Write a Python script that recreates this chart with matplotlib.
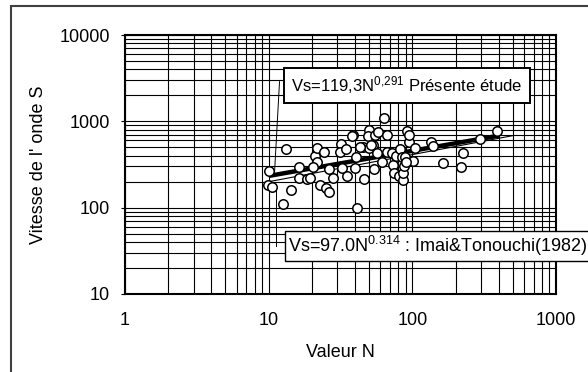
import numpy as np
import matplotlib.pyplot as plt
from matplotlib.patches import Rectangle

plt.rcParams['font.family'] = ['Liberation Sans', 'DejaVu Sans']
plt.rcParams['mathtext.fontset'] = 'custom'
plt.rcParams['mathtext.rm'] = 'Liberation Sans'
plt.rcParams['mathtext.it'] = 'Liberation Sans:italic'

# N value vs S-wave velocity
n_vals = [10.1, 9.9, 10.5, 12.5, 13.1, 14.2, 16.3, 16.3, 18.6, 19.4,
          21.0, 21.7, 21.6, 22.8, 24.4, 25.0, 26.4, 26.1, 27.9, 31.7,
          31.3, 32.4, 34.5, 35.3, 38.4, 40.5, 40.1, 41.0, 46.0, 45.5,
          49.6, 49.4, 49.6, 52.9, 55.2, 56.5, 57.4, 54.0, 61.4, 63.4,
          66.9, 66.9, 72.9, 72.1, 74.5, 76.9, 81.1, 82.0, 84.7, 86.5,
          85.8, 87.5, 88.8, 92.2, 94.2, 95.1, 101.5, 104.2, 134, 140,
          164, 217, 226, 295, 390, 20.4, 43.0, 90.0, 51.4, 37.9]
vs_vals = [268, 181, 172, 110, 478, 161, 293, 218, 213, 220,
           396, 486, 340, 181, 441, 167, 150, 278, 218, 546,
           444, 288, 478, 232, 689, 389, 290, 100, 213, 499,
           793, 676, 494, 527, 694, 426, 745, 278, 340, 1101,
           689, 444, 312, 426, 250, 396, 234, 474, 383, 209,
           250, 303, 389, 778, 580, 694, 344, 486, 571, 517,
           331, 298, 433, 618, 778, 298, 508, 340, 531, 676]

# regression lines
n_present = np.array([10, 400])
vs_present = 119.3 * n_present ** 0.291
n_imai = np.array([10, 500])
vs_imai = 97.0 * n_imai ** 0.314

fig = plt.figure(figsize=(5.88, 3.72), dpi=100)
fig.patches.append(Rectangle((11 / 588, -0.1), 1.2, 1 - 6 / 372 + 0.1,
                             transform=fig.transFigure, fill=False,
                             edgecolor='#404040', lw=1.5))
ax = fig.add_axes([125 / 588, 78 / 372, 431 / 588, 259 / 372])

ax.set_xscale('log')
ax.set_yscale('log')
ax.set_xlim(1, 1000)
ax.set_ylim(10, 10000)

ax.grid(True, which='both', color='black', lw=0.8)
ax.set_axisbelow(True)

ax.plot(n_imai, vs_imai, color='black', lw=0.8, zorder=3)
ax.plot(n_present, vs_present, color='black', lw=3.2, zorder=4,
        solid_capstyle='butt')
ax.plot(n_vals, vs_vals, 'o', ms=6.8, mfc='white', mec='black', mew=1.1,
        zorder=5)

# leader lines
ax.plot([11.9, 11.0], [2880, 265], color='black', lw=0.7, zorder=3)
ax.plot([11.2, 11.2], [36, 190], color='black', lw=0.7, zorder=3)

ax.text(14.4, 2600, r'Vs=119,3N$^{\mathrm{0{,}291}}$ Présente étude',
        fontsize=12, va='center', ha='left', zorder=6, clip_on=False,
        bbox=dict(boxstyle='square,pad=0.42', fc='white', ec='black', lw=1.4))
ax.text(13.6, 36, r'Vs=97.0N$^{\mathrm{0.314}}$ : Imai&Tonouchi(1982)',
        fontsize=13, va='center', ha='left', zorder=6, clip_on=False,
        bbox=dict(boxstyle='square,pad=0.15', fc='white', ec='black', lw=1.0))

ax.set_xticks([1, 10, 100, 1000])
ax.set_xticklabels(['1', '10', '100', '1000'])
ax.set_yticks([10, 100, 1000, 10000])
ax.set_yticklabels(['10', '100', '1000', '10000'])
ax.tick_params(axis='x', which='both', length=0, labelsize=13, pad=13)
ax.tick_params(axis='y', which='major', length=3, labelsize=13, pad=8)
ax.tick_params(axis='y', which='minor', length=0)

for s in ax.spines.values():
    s.set_linewidth(1.5)

ax.set_xlabel('Valeur N', fontsize=13, labelpad=11)
ax.set_ylabel("Vitesse de l' onde S", fontsize=13, labelpad=9)

fig.savefig('out.png', dpi=100)
